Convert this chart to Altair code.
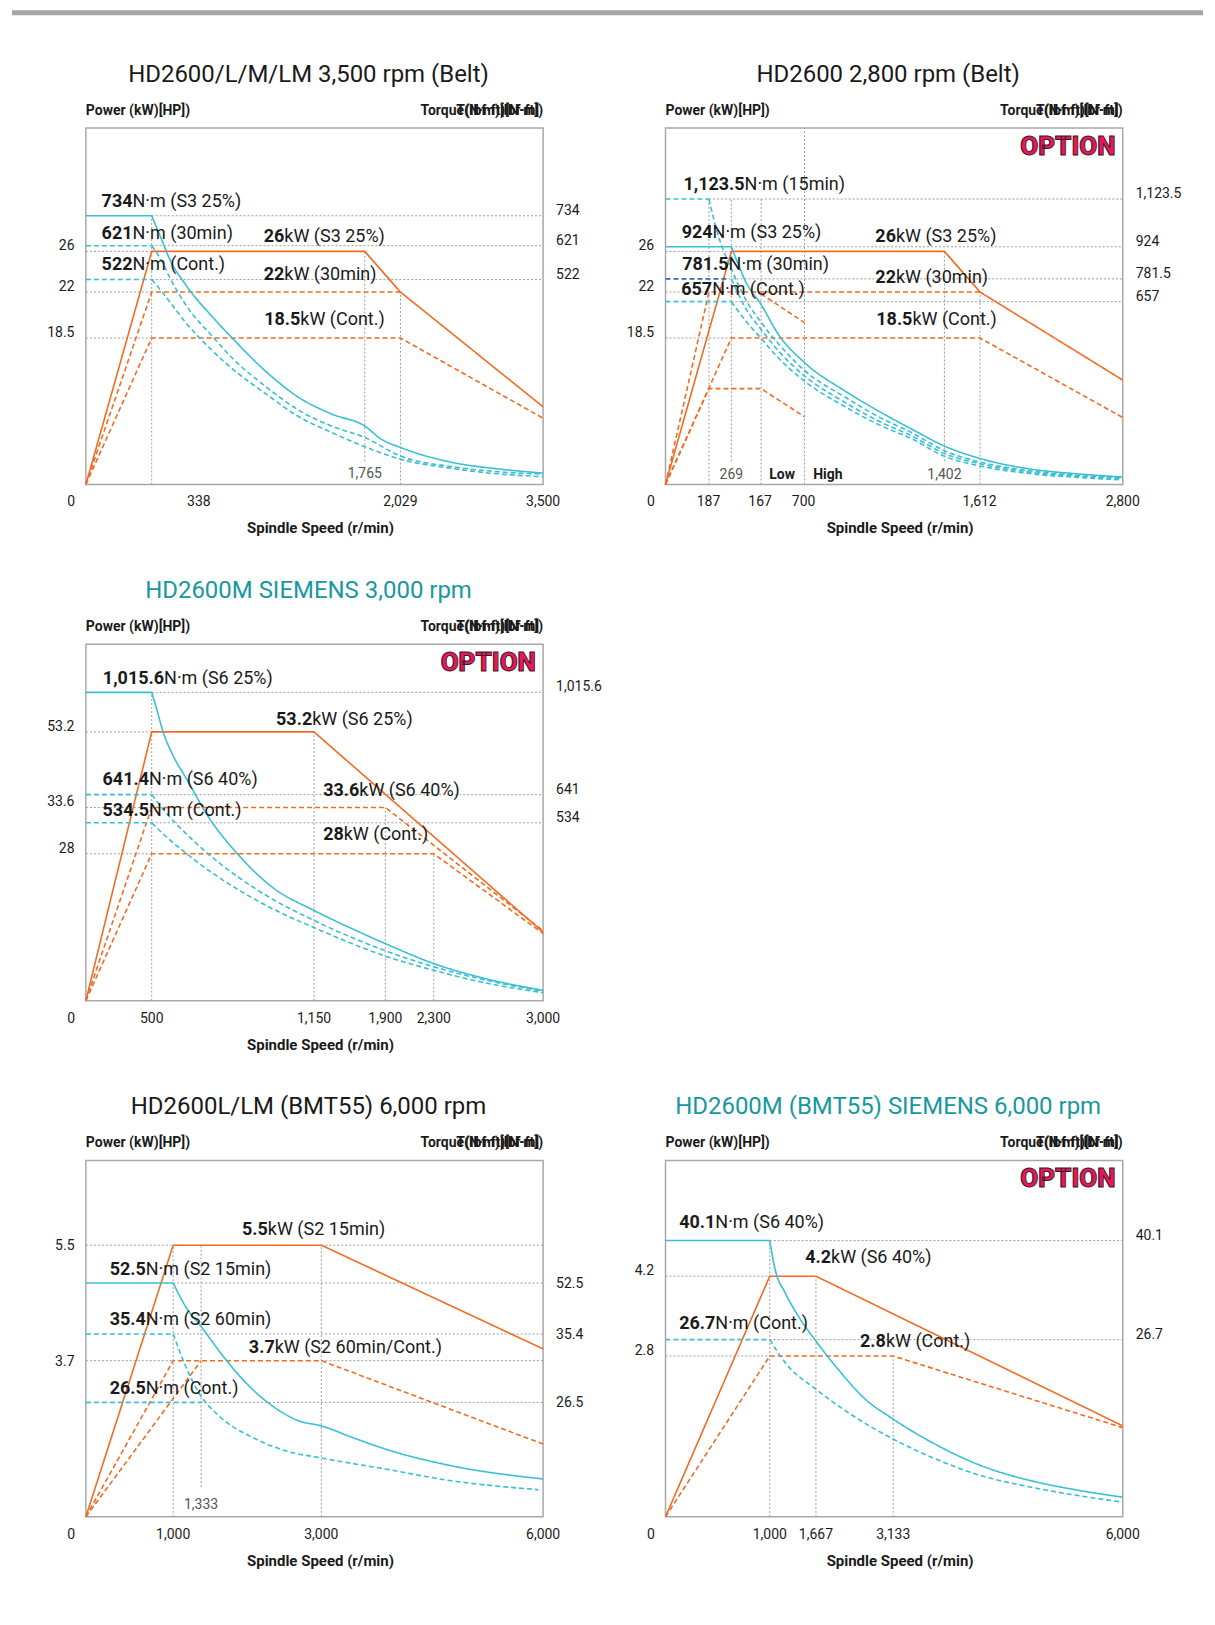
import altair as alt
import pandas as pd

# ---------------- data: schematic positions ----------------
# speed positions and values are in % of the plotted axis length (the chart is schematic)

P1_TITLE = "HD2600/L/M/LM 3,500 rpm (Belt)"
P1_SERIES = [
    ("p_s3", "power", "solid", [0, 14.4, 61.0, 68.8, 100], [0, 65.4, 65.4, 54.0, 21.8]),
    ("p_30", "power", "dashed", [0, 14.4, 68.8], [0, 54.0, 54.0]),
    ("p_cont", "power", "dashed", [0, 14.4, 68.8, 100], [0, 41.1, 41.1, 18.6]),
    ("t_s3", "torque", "solid",
     [0, 14.4, 16.7, 18.2, 21.8, 27.7, 32.0, 39.3, 46.6, 53.9, 61.0, 64.5, 68.8, 80.1, 90, 100],
     [75.4, 75.4, 68.3, 63.6, 56.1, 47.0, 41.1, 31.8, 24.4, 19.7, 16.4, 12.8, 10.4, 6.2, 4.4, 3.2]),
    ("t_30", "torque", "dashed",
     [0, 14.4, 16.7, 18.2, 21.8, 27.7, 32.0, 39.3, 46.6, 53.9, 61.0, 68.8, 80.1, 90, 100],
     [67.0, 67.0, 62.5, 58.5, 50.5, 41.5, 35.5, 27.5, 20.8, 16.3, 13.2, 8.0, 5.0, 3.6, 2.9]),
    ("t_cont", "torque", "dashed",
     [0, 14.4, 16.7, 18.2, 21.8, 27.7, 32.0, 39.3, 46.6, 53.9, 61.0, 68.8, 80.1, 90, 100],
     [57.5, 57.5, 54.0, 51.5, 45.5, 37.5, 32.5, 25.5, 19.0, 14.5, 10.6, 7.1, 4.5, 3.0, 2.2]),
]
P1_HGRID = [(75.4, 14.4, 100), (67.0, 14.4, 100), (65.4, 0, 14.4), (57.5, 14.4, 100), (54.0, 0, 14.4), (41.1, 0, 14.4)]
P1_VGRID = [(14.4, 0, 75.4), (61.0, 6.5, 65.4), (68.8, 0, 54.0)]
P1_LABELS = [("734", "N·m (S3 25%)", 10.2, 79.3), ("621", "N·m (30min)", 10.2, 70.4),
             ("522", "N·m (Cont.)", 10.2, 61.5), ("26", "kW (S3 25%)", 43.4, 69.5),
             ("22", "kW (30min)", 43.4, 58.9), ("18.5", "kW (Cont.)", 46.9, 46.1)]
P1_LEFT = [("26", 65.4), ("22", 54.0), ("18.5", 41.1)]
P1_RIGHT = [("734", 75.4), ("621", 67.0), ("522", 57.5)]
P1_XTICKS = [("0", -3.2), ("338", 24.7), ("2,029", 68.8), ("3,500", 100)]
P1_NOTES = [("1,765", 61.0, 2.9)]
P1_NOTES_BOLD = []

P2_TITLE = "HD2600 2,800 rpm (Belt)"
P2_SERIES = [
    ("p_s3", "power", "solid", [0, 14.4, 61.0, 68.8, 100], [0, 65.4, 65.4, 54.0, 29.3]),
    ("p_30", "power", "dashed", [0, 9.5, 68.8], [0, 54.0, 54.0]),
    ("p_30_low", "power", "dashed", [20.9, 30.4], [53.5, 45.4]),
    ("p_cont", "power", "dashed", [0, 14.4, 68.8, 100], [0, 41.1, 41.1, 18.8]),
    ("p_cont_low", "power", "dashed", [0, 9.5, 20.9, 30.4], [0, 26.9, 26.9, 19.0]),
    ("t_s3", "torque", "solid",
     [0, 14.4, 16.0, 17.5, 20.9, 24.7, 30.4, 39.3, 46.6, 53.9, 61.0, 68.8, 80, 90, 100],
     [66.7, 66.7, 61.5, 57.0, 50.5, 42.1, 34.2, 26.2, 20.6, 15.5, 10.8, 7.3, 4.3, 3.0, 2.1]),
    ("t_15", "torque", "dashed",
     [0, 9.5, 11.5, 14.4, 17.5, 20.9, 24.7, 30.4, 39.3, 46.6, 53.9, 61.0, 68.8, 80, 90, 100],
     [80.1, 80.1, 70.0, 60.5, 52.0, 45.5, 39.5, 32.0, 24.5, 19.0, 14.5, 9.5, 6.3, 3.8, 2.6, 1.9]),
    ("t_30_flat", "torque2", "dashed", [0, 13.8], [57.7, 57.7]),
    ("t_30", "torque", "dashed",
     [14.4, 17.5, 20.9, 24.7, 30.4, 39.3, 46.6, 53.9, 61.0, 68.8, 80, 90, 100],
     [57.7, 49.5, 43.5, 37.5, 30.5, 23.0, 17.8, 13.6, 8.7, 5.8, 3.4, 2.3, 1.6]),
    ("t_cont", "torque", "dashed",
     [0, 14.4, 17.5, 20.9, 24.7, 30.4, 39.3, 46.6, 53.9, 61.0, 68.8, 80, 90, 100],
     [51.3, 51.3, 46.0, 41.0, 35.5, 29.0, 21.8, 16.8, 12.8, 7.9, 5.2, 3.0, 2.0, 1.3]),
]
P2_HGRID = [(80.1, 9.5, 100), (66.7, 14.4, 100), (65.4, 0, 14.4), (57.7, 13.8, 100),
            (54.0, 0, 9.5), (51.3, 14.4, 100), (41.1, 0, 14.4)]
P2_VGRID = [(9.5, 0, 80.1), (14.4, 6.5, 80.1), (20.9, 0, 80.1), (30.4, 0, 100), (61.0, 6.5, 65.4), (68.8, 0, 54.0)]
P2_LABELS = [("1,123.5", "N·m (15min)", 17.3, 83.9), ("924", "N·m (S3 25%)", 10.3, 70.6),
             ("781.5", "N·m (30min)", 13.8, 61.7), ("657", "N·m (Cont.)", 10.2, 54.5),
             ("26", "kW (S3 25%)", 50.4, 69.5), ("22", "kW (30min)", 50.4, 58.0),
             ("18.5", "kW (Cont.)", 54.0, 46.1)]
P2_LEFT = [("26", 65.4), ("22", 54.0), ("18.5", 41.1)]
P2_RIGHT = [("1,123.5", 80.1), ("924", 66.7), ("781.5", 57.7), ("657", 51.3)]
P2_XTICKS = [("0", -3.2), ("187", 9.4), ("167", 20.7), ("700", 30.2), ("1,612", 68.7), ("2,800", 100)]
P2_NOTES = [("269", 14.4, 2.6), ("1,402", 61.0, 2.6)]
P2_NOTES_BOLD = [("Low", 25.5, 2.6), ("High", 35.5, 2.6)]

P3_TITLE = "HD2600M SIEMENS 3,000 rpm"
P3_SERIES = [
    ("p_s6_25", "power", "solid", [0, 14.4, 49.9, 100], [0, 75.4, 75.4, 19.2]),
    ("p_s6_40", "power", "dashed", [0, 14.4, 65.5, 100], [0, 54.2, 54.2, 19.6]),
    ("p_cont", "power", "dashed", [0, 14.4, 76.1, 100], [0, 41.2, 41.2, 18.8]),
    ("t_s6_25", "torque", "solid",
     [0, 14.4, 15.6, 16.7, 18.9, 21.8, 26.9, 33.5, 40.8, 49.9, 58.2, 65.5, 76.1, 87.3, 100],
     [86.5, 86.5, 81.3, 76.2, 69.2, 62.7, 51.4, 40.7, 31.8, 25.3, 20.2, 16.0, 10.4, 6.2, 2.9]),
    ("t_s6_40", "torque", "dashed",
     [0, 14.4, 18.0, 21.8, 26.9, 33.5, 40.8, 49.9, 65.5, 76.1, 87.3, 100],
     [57.8, 57.8, 52.0, 47.0, 41.0, 34.5, 28.5, 22.5, 14.0, 9.5, 5.8, 2.6]),
    ("t_cont", "torque", "dashed",
     [0, 14.4, 18.0, 21.8, 26.9, 33.5, 40.8, 49.9, 65.5, 76.1, 87.3, 100],
     [49.9, 49.9, 45.5, 41.5, 36.5, 31.0, 25.8, 20.5, 12.5, 8.5, 5.0, 2.2]),
]
P3_HGRID = [(86.5, 14.4, 100), (75.4, 0, 14.4), (57.8, 14.4, 100), (54.2, 0, 14.4), (49.9, 14.4, 100), (41.2, 0, 14.4)]
P3_VGRID = [(14.4, 0, 86.5), (49.9, 0, 75.4), (65.5, 0, 54.2), (76.1, 0, 41.2)]
P3_LABELS = [("1,015.6", "N·m (S6 25%)", 17.1, 90.2), ("53.2", "kW (S6 25%)", 49.5, 78.7),
             ("641.4", "N·m (S6 40%)", 13.8, 61.9), ("534.5", "N·m (Cont.)", 13.8, 53.1),
             ("33.6", "kW (S6 40%)", 59.8, 58.9), ("28", "kW (Cont.)", 56.4, 46.6)]
P3_LEFT = [("53.2", 75.4), ("33.6", 54.2), ("28", 41.2)]
P3_RIGHT = [("1,015.6", 86.5), ("641", 57.8), ("534", 49.9)]
P3_XTICKS = [("0", -3.2), ("500", 14.4), ("1,150", 49.9), ("1,900", 65.5), ("2,300", 76.1), ("3,000", 100)]
P3_NOTES = []
P3_NOTES_BOLD = []

P4_TITLE = "HD2600L/LM (BMT55) 6,000 rpm"
P4_SERIES = [
    ("p_15", "power", "solid", [0, 19.1, 51.5, 100], [0, 76.2, 76.2, 47.1]),
    ("p_60", "power", "dashed", [0, 19.1, 51.5, 100], [0, 43.8, 43.8, 20.4]),
    ("p_60b", "power", "dashed", [0, 25.2], [0, 43.8]),
    ("t_15", "torque", "solid",
     [0, 19.1, 21.8, 25.2, 30.6, 36.4, 40.8, 46.6, 51.5, 58.2, 65.5, 80, 100],
     [65.6, 65.6, 59.0, 53.4, 44.1, 35.8, 31.1, 26.9, 25.5, 22.3, 19.0, 14.3, 10.6]),
    ("t_60", "torque", "dashed",
     [0, 19.1, 21.8, 24.7, 29.1, 36.4, 43.7, 51.5, 65.5, 80, 99],
     [51.3, 51.3, 42.3, 34.8, 28.3, 22.3, 18.5, 16.5, 13.4, 10.1, 7.6]),
    ("t_cont", "torque", "dashed", [0, 25.2], [32.1, 32.1]),
]
P4_HGRID = [(76.2, 0, 19.1), (76.2, 51.5, 100), (65.6, 19.1, 100), (51.3, 19.1, 100),
            (43.8, 0, 19.1), (43.8, 51.5, 100), (32.1, 25.2, 100)]
P4_VGRID = [(19.1, 0, 76.2), (25.2, 8.3, 76.2), (51.5, 0, 76.2)]
P4_LABELS = [("5.5", "kW (S2 15min)", 39.8, 80.4), ("52.5", "N·m (S2 15min)", 13.1, 69.3),
             ("35.4", "N·m (S2 60min)", 13.1, 55.3), ("3.7", "kW (S2 60min/Cont.)", 41.3, 47.4),
             ("26.5", "N·m (Cont.)", 13.1, 35.9)]
P4_LEFT = [("5.5", 76.2), ("3.7", 43.8)]
P4_RIGHT = [("52.5", 65.6), ("35.4", 51.3), ("26.5", 32.1)]
P4_XTICKS = [("0", -3.2), ("1,000", 19.1), ("3,000", 51.5), ("6,000", 100)]
P4_NOTES = [("1,333", 25.2, 3.4)]
P4_NOTES_BOLD = []

P5_TITLE = "HD2600M (BMT55) SIEMENS 6,000 rpm"
P5_SERIES = [
    ("p_s6", "power", "solid", [0, 22.8, 32.9, 100], [0, 67.5, 67.5, 25.5]),
    ("p_cont", "power", "dashed", [0, 22.8, 49.8, 100], [0, 45.1, 45.1, 25.0]),
    ("t_s6", "torque", "solid",
     [0, 22.8, 24.0, 26.2, 29.1, 32.9, 37.8, 43.7, 49.8, 58.2, 69.1, 80, 90, 100],
     [77.5, 77.5, 69.3, 62.8, 56.2, 49.3, 41.3, 33.0, 27.4, 20.9, 14.3, 10.1, 7.5, 5.5]),
    ("t_cont", "torque", "dashed",
     [0, 22.8, 26.2, 32.9, 40.0, 49.8, 58.2, 69.1, 80, 90, 100],
     [49.7, 49.7, 43.2, 35.8, 29.2, 21.8, 16.7, 11.5, 8.3, 6.0, 4.1]),
]
P5_HGRID = [(77.5, 22.8, 100), (67.5, 0, 22.8), (49.7, 22.8, 100), (45.1, 0, 22.8)]
P5_VGRID = [(22.8, 0, 77.5), (32.9, 0, 67.5), (49.8, 0, 45.1)]
P5_LABELS = [("40.1", "N·m (S6 40%)", 10.9, 82.3), ("4.2", "kW (S6 40%)", 36.2, 72.7),
             ("26.7", "N·m (Cont.)", 10.9, 54.1), ("2.8", "kW (Cont.)", 48.2, 49.0)]
P5_LEFT = [("4.2", 67.5), ("2.8", 45.1)]
P5_RIGHT = [("40.1", 77.5), ("26.7", 49.7)]
P5_XTICKS = [("0", -3.2), ("1,000", 22.8), ("1,667", 32.9), ("3,133", 49.8), ("6,000", 100)]
P5_NOTES = []
P5_NOTES_BOLD = []

# ---------------- styling ----------------
W, H = 458, 357
FONT = "Roboto"
ORANGE = "#f26b23"
CYAN = "#38bfd3"
NAVY = "#2f6db5"
GRID = "#9c9c9c"
TXT = "#1a1a1a"
TEAL = "#17989f"

XS = alt.Scale(domain=[0, 100])
YS = alt.Scale(domain=[0, 100])
COLOR = alt.Color("kind:N", scale=alt.Scale(domain=["power", "torque", "torque2"],
                                            range=[ORANGE, CYAN, NAVY]), legend=None)
DASH = alt.StrokeDash("style:N", scale=alt.Scale(domain=["solid", "dashed"],
                                                 range=[[1, 0], [5, 3]]), legend=None)


def ptext(txt, px, py, **kw):
    return alt.Chart(pd.DataFrame({"t": [txt]})).mark_text(font=FONT, **kw).encode(
        text="t:N", x=alt.value(px), y=alt.value(py))


def split_rows(name, kind, style, xs, ys):
    """Straight segments stay linear; the falling torque curve is drawn smooth from its corner."""
    pts = list(zip(xs, ys))
    straight, curve = pts, []
    if kind == "torque" and len(pts) > 4:
        k = next(j for j in range(len(pts) - 1) if pts[j + 1][1] < pts[j][1])
        straight, curve = pts[:k + 1], pts[k:]
    rows_l = [{"series": name, "kind": kind, "style": style, "i": i, "x": a, "y": b}
              for i, (a, b) in enumerate(straight)] if len(straight) > 1 else []
    rows_c = [{"series": name, "kind": kind, "style": style, "i": i, "x": a, "y": b}
              for i, (a, b) in enumerate(curve)]
    return rows_l, rows_c


def line_layer(df, interp):
    return alt.Chart(df).mark_line(strokeWidth=1.6, interpolate=interp).encode(
        x=alt.X("x:Q", scale=XS, axis=None),
        y=alt.Y("y:Q", scale=YS, axis=None),
        detail="series:N", order="i:Q", color=COLOR, strokeDash=DASH)


def panel(series, hgrid, vgrid, labels, left, right, xticks, notes, notes_bold,
          title, title_color, option, tick_dy, extra=None):
    rows_l, rows_c = [], []
    for s in series:
        a, b = split_rows(*s)
        rows_l += a
        rows_c += b
    df_h = pd.DataFrame(hgrid, columns=["y", "x1", "x2"])
    df_v = pd.DataFrame(vgrid, columns=["x", "y1", "y2"])
    df_lab = pd.DataFrame(labels, columns=["bold", "rest", "split", "y"])
    df_left = pd.DataFrame(left, columns=["t", "y"])
    df_right = pd.DataFrame(right, columns=["t", "y"])
    df_xt = pd.DataFrame(xticks, columns=["t", "x"])

    layers = []
    if extra is not None:
        layers.extend(extra)
    layers.append(alt.Chart(df_h).mark_rule(color=GRID, strokeDash=[2, 2], strokeWidth=1).encode(
        x=alt.X("x1:Q", scale=XS, axis=None), x2="x2:Q", y=alt.Y("y:Q", scale=YS, axis=None)))
    layers.append(alt.Chart(df_v).mark_rule(color=GRID, strokeDash=[2, 2], strokeWidth=1).encode(
        x=alt.X("x:Q", scale=XS, axis=None), y=alt.Y("y1:Q", scale=YS, axis=None), y2="y2:Q"))
    layers.append(line_layer(pd.DataFrame(rows_l), "linear"))
    if rows_c:
        layers.append(line_layer(pd.DataFrame(rows_c), "monotone"))
    # curve labels: bold value + regular unit
    layers.append(alt.Chart(df_lab).mark_text(font=FONT, fontSize=18, fontWeight="bold", align="right",
                                              baseline="middle", color=TXT).encode(
        x=alt.X("split:Q", scale=XS), y=alt.Y("y:Q", scale=YS), text="bold:N"))
    layers.append(alt.Chart(df_lab).mark_text(font=FONT, fontSize=18, align="left",
                                              baseline="middle", color=TXT).encode(
        x=alt.X("split:Q", scale=XS), y=alt.Y("y:Q", scale=YS), text="rest:N"))
    # side tick labels
    layers.append(alt.Chart(df_left).mark_text(font=FONT, fontSize=14, align="right", baseline="middle",
                                               color=TXT, dy=tick_dy).encode(
        x=alt.value(-11.4), y=alt.Y("y:Q", scale=YS), text="t:N"))
    layers.append(alt.Chart(df_right).mark_text(font=FONT, fontSize=14, align="left", baseline="middle",
                                                color=TXT, dy=tick_dy).encode(
        x=alt.value(W + 13), y=alt.Y("y:Q", scale=YS), text="t:N"))
    layers.append(alt.Chart(df_xt).mark_text(font=FONT, fontSize=14, align="center", baseline="middle",
                                             color=TXT).encode(
        x=alt.X("x:Q", scale=XS), y=alt.value(H + 18), text="t:N"))
    if notes:
        df_n = pd.DataFrame(notes, columns=["t", "x", "y"])
        layers.append(alt.Chart(df_n).mark_text(font=FONT, fontSize=14, align="center", baseline="middle",
                                                color="#555555").encode(
            x=alt.X("x:Q", scale=XS), y=alt.Y("y:Q", scale=YS), text="t:N"))
    if notes_bold:
        df_nb = pd.DataFrame(notes_bold, columns=["t", "x", "y"])
        layers.append(alt.Chart(df_nb).mark_text(font=FONT, fontSize=14, fontWeight="bold", align="center",
                                                 baseline="middle", color=TXT).encode(
            x=alt.X("x:Q", scale=XS), y=alt.Y("y:Q", scale=YS), text="t:N"))
    # headers, title, axis title
    layers.append(ptext("Power (kW)[HP])", 0, -17.5, fontSize=14, fontWeight="bold", align="left",
                        baseline="middle", color=TXT))
    layers.append(ptext("Torque(N·m)[lbf·ft])", W, -17.5, fontSize=14, fontWeight="bold", align="right",
                        baseline="middle", color=TXT))
    layers.append(ptext("T(lbf·ft)[N·m]", W - 4, -17.5, fontSize=14, fontWeight="bold", align="right",
                        baseline="middle", color=TXT))
    layers.append(ptext(title, 223, -53, fontSize=24, align="center", baseline="middle", color=title_color))
    layers.append(ptext("Spindle Speed (r/min)", 235, H + 44, fontSize=15, fontWeight="bold",
                        align="center", baseline="middle", color=TXT))
    if option:
        layers.append(ptext("OPTION", 403, 19, fontSize=26, fontWeight=900, align="center",
                            baseline="middle", color="#e8175d", stroke="#3a1a22", strokeWidth=1.0))
    return alt.layer(*layers).properties(width=W, height=H)


top_bar = alt.Chart(pd.DataFrame({"t": [0]})).mark_rule(color="#a3a7aa", strokeWidth=5).encode(
    x=alt.value(-74), x2=alt.value(1119), y=alt.value(-115.5))

p1 = panel(P1_SERIES, P1_HGRID, P1_VGRID, P1_LABELS, P1_LEFT, P1_RIGHT, P1_XTICKS, P1_NOTES, P1_NOTES_BOLD,
           P1_TITLE, TXT, False, -5, extra=[top_bar])
p2 = panel(P2_SERIES, P2_HGRID, P2_VGRID, P2_LABELS, P2_LEFT, P2_RIGHT, P2_XTICKS, P2_NOTES, P2_NOTES_BOLD,
           P2_TITLE, TXT, True, -5)
p3 = panel(P3_SERIES, P3_HGRID, P3_VGRID, P3_LABELS, P3_LEFT, P3_RIGHT, P3_XTICKS, P3_NOTES, P3_NOTES_BOLD,
           P3_TITLE, TEAL, True, -5)
p4 = panel(P4_SERIES, P4_HGRID, P4_VGRID, P4_LABELS, P4_LEFT, P4_RIGHT, P4_XTICKS, P4_NOTES, P4_NOTES_BOLD,
           P4_TITLE, TXT, False, 1)
p5 = panel(P5_SERIES, P5_HGRID, P5_VGRID, P5_LABELS, P5_LEFT, P5_RIGHT, P5_XTICKS, P5_NOTES, P5_NOTES_BOLD,
           P5_TITLE, TEAL, True, -5)

blank = alt.Chart(pd.DataFrame({"t": [0]})).mark_point(opacity=0).encode(
    x=alt.value(0), y=alt.value(0)
).properties(width=W, height=H, view=alt.ViewBackground(stroke=None))

chart = alt.concat(p1, p2, p3, blank, p4, p5, columns=2,
                   spacing=alt.RowColnumber(row=160, column=122.6), bounds="flush").properties(
    padding=0, background="white"
).configure_view(stroke="#a8a8a8", strokeWidth=1.5)

chart.save("out.html", embed_options={"renderer": "svg", "actions": False})
